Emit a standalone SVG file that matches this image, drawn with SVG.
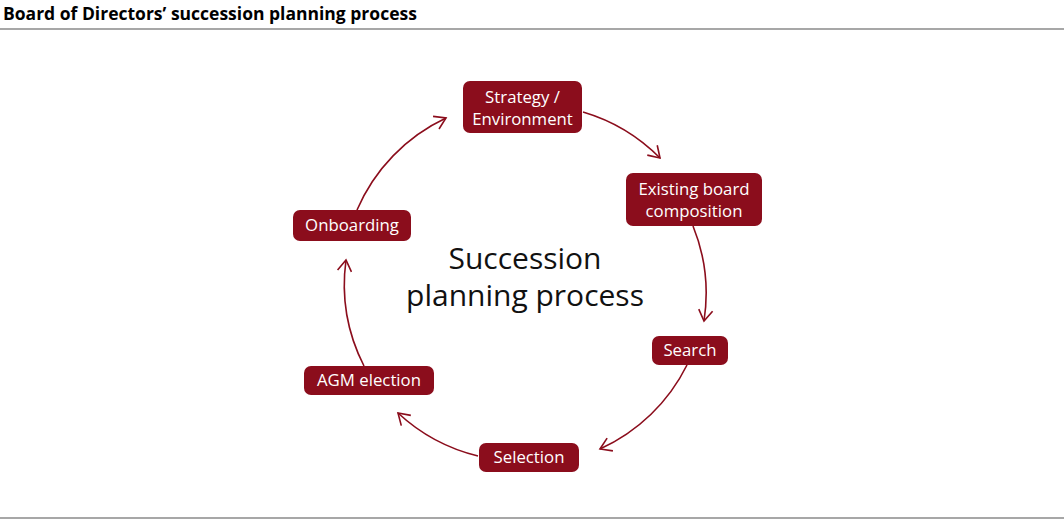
<svg xmlns="http://www.w3.org/2000/svg" width="1064" height="521" viewBox="0 0 1064 521">
<style>
.title{font-family:"Open Sans","Noto Sans",sans-serif;font-weight:bold;font-size:17.5px;fill:#000}
.rule{stroke:#8a8a8a;stroke-width:1.5}
.box{fill:#8b0d1c}
.lbl{font-family:"Open Sans","Noto Sans",sans-serif;font-size:16.8px;fill:#fff;text-anchor:middle}
.center{font-family:"Open Sans","Noto Sans",sans-serif;font-size:30px;fill:#111;text-anchor:middle}
.conn{fill:none;stroke:#8b0d1c;stroke-width:1.6}
</style>
<defs>
<marker id="arr" markerWidth="16" markerHeight="16" refX="12" refY="8" orient="auto" markerUnits="userSpaceOnUse">
<path d="M1 1 L12 8 L1 15" fill="none" stroke="#8b0d1c" stroke-width="1.6"/>
</marker>
</defs>
<rect width="1064" height="521" fill="#fff"/>
<text class="title" x="3" y="20">Board of Directors’ succession planning process</text>
<line class="rule" x1="0" y1="29" x2="1064" y2="29"/>
<line class="rule" x1="0" y1="518" x2="1064" y2="518"/>
<g id="connectors">
<path class="conn" marker-end="url(#arr)" d="M583 112 A180 180 0 0 1 660 158"/>
<path class="conn" marker-end="url(#arr)" d="M693 226 A180 180 0 0 1 704 321"/>
<path class="conn" marker-end="url(#arr)" d="M687 365 A180 180 0 0 1 600 449"/>
<path class="conn" marker-end="url(#arr)" d="M478 456 A180 180 0 0 1 398 413"/>
<path class="conn" marker-end="url(#arr)" d="M364 366 A180 180 0 0 1 346 260"/>
<path class="conn" marker-end="url(#arr)" d="M357 210 A180 180 0 0 1 446 118"/>
</g>
<g id="center-label">
<text class="center" x="525"><tspan x="525" y="269">Succession</tspan><tspan x="525" y="306">planning process</tspan></text>
</g>
<g id="node-strategy">
<rect class="box" x="463" y="81" width="119" height="52" rx="7"/>
<text class="lbl" x="522.5" y="103">Strategy /</text>
<text class="lbl" x="522.5" y="125">Environment</text>
</g>
<g id="node-existing">
<rect class="box" x="626" y="173" width="136" height="53" rx="7"/>
<text class="lbl" x="694" y="195">Existing board</text>
<text class="lbl" x="694" y="217">composition</text>
</g>
<g id="node-search">
<rect class="box" x="652" y="336" width="76" height="29" rx="7"/>
<text class="lbl" x="690" y="356">Search</text>
</g>
<g id="node-selection">
<rect class="box" x="479" y="443" width="100" height="29" rx="7"/>
<text class="lbl" x="529" y="463">Selection</text>
</g>
<g id="node-agm">
<rect class="box" x="304" y="366" width="130" height="29" rx="7"/>
<text class="lbl" x="369" y="386">AGM election</text>
</g>
<g id="node-onboarding">
<rect class="box" x="293" y="210" width="118" height="31" rx="7"/>
<text class="lbl" x="352" y="231">Onboarding</text>
</g>
</svg>
